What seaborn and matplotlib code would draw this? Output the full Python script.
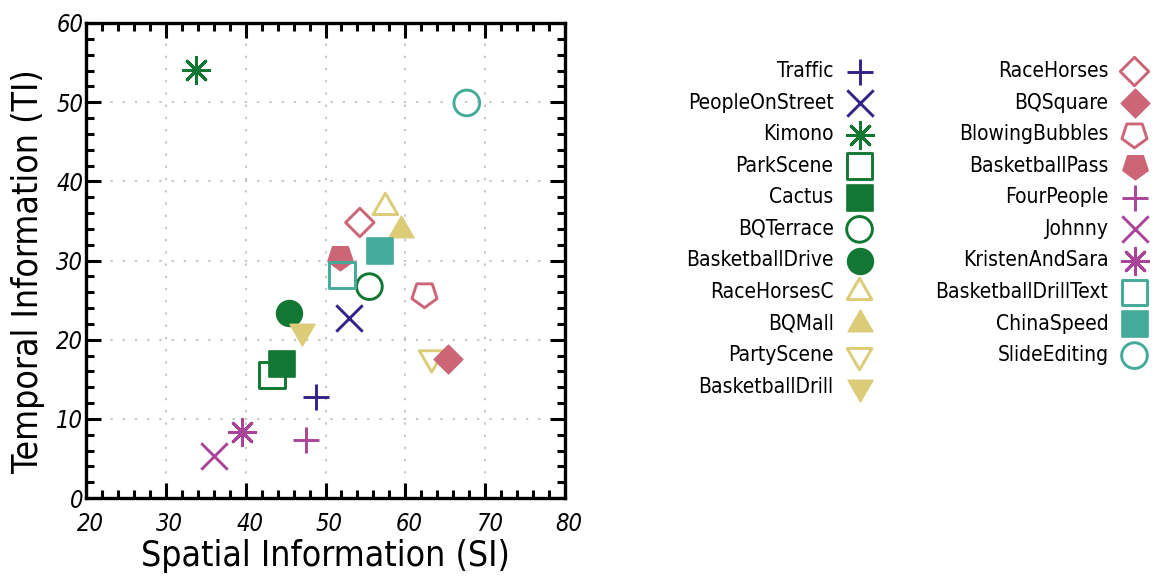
import matplotlib
matplotlib.use("Agg")
import matplotlib.pyplot as plt
import matplotlib.transforms as mtransforms
import seaborn as sns
from matplotlib.ticker import MultipleLocator

# Test sequences with their spatial (SI) and temporal (TI) information
sequences = [
    "Traffic", "PeopleOnStreet", "Kimono", "ParkScene", "Cactus", "BQTerrace",
    "BasketballDrive", "RaceHorsesC", "BQMall", "PartyScene", "BasketballDrill",
    "RaceHorses", "BQSquare", "BlowingBubbles", "BasketballPass",
    "FourPeople", "Johnny", "KristenAndSara",
    "BasketballDrillText", "ChinaSpeed", "SlideEditing",
]
si = [48.8, 52.9, 33.8, 43.3, 44.5, 55.5, 45.4, 57.5, 59.5, 63.3, 47.1,
      54.3, 65.3, 62.4, 51.8, 47.6, 36.0, 39.6, 52.1, 56.8, 67.7]
ti = [12.8, 22.8, 54.1, 15.5, 16.9, 26.7, 23.4, 36.7, 33.9, 17.7, 21.1,
      34.8, 17.6, 25.7, 30.4, 7.3, 5.3, 8.4, 28.2, 31.2, 49.9]

x_ticks = [20, 30, 40, 50, 60, 70, 80]
y_ticks = [0, 10, 20, 30, 40, 50, 60]

# Styling per sequence class
indigo, green, sand, rose, purple, teal = (
    "#332288", "#117733", "#DDCC77", "#CC6677", "#AA4499", "#44AA99")
colors = [indigo, indigo, green, green, green, green, green, sand, sand, sand, sand,
          rose, rose, rose, rose, purple, purple, purple, teal, teal, teal]
plus, cross, star = "+", "x", (8, 2, 0)
tri_up, tri_dn, pent = (3, 0, 0), (3, 0, 180), (5, 0, 180)
markers = [plus, cross, star, "s", "s", "o", "o", tri_up, tri_up, tri_dn, tri_dn,
           "D", "D", pent, pent, plus, cross, star, "s", "s", "o"]
filled = [None, None, None, False, True, False, True, False, True, False, True,
          False, True, False, True, None, None, None, False, True, False]
size_pt = {"+": 19, "x": 19, star: 19, "s": 18.5, "o": 18.5, "D": 14.5,
           tri_up: 20.5, tri_dn: 20.5, pent: 19}

sns.set_theme(style="white")
plt.rcParams["font.family"] = ["DejaVu Sans"]
plt.rcParams["font.stretch"] = "condensed"
plt.rcParams["text.color"] = "black"

fig = plt.figure(figsize=(11.55, 5.76), dpi=100)
ax = fig.add_axes([86 / 1155, 1 - 498 / 576, 479 / 1155, 475 / 576])

lw = 2.1
for name, x, y, c, m, f in zip(sequences, si, ti, colors, markers, filled):
    s = size_pt[m] ** 2
    if f is None:
        sns.scatterplot(x=[x], y=[y], ax=ax, marker=m, s=s, color=c,
                        linewidth=lw, label=name, zorder=3)
    elif f:
        sns.scatterplot(x=[x], y=[y], ax=ax, marker=m, s=s, color=c,
                        edgecolor=c, linewidth=1.2, label=name, zorder=3)
    else:
        sns.scatterplot(x=[x], y=[y], ax=ax, marker=m, s=s, facecolor="none",
                        edgecolor=c, linewidth=lw, label=name, zorder=3)

ax.set_xlim(x_ticks[0], x_ticks[-1])
ax.set_ylim(y_ticks[0], y_ticks[-1])
ax.set_xticks(x_ticks)
ax.set_yticks(y_ticks)
ax.xaxis.set_minor_locator(MultipleLocator(2))
ax.yaxis.set_minor_locator(MultipleLocator(2))
ax.tick_params(which="both", direction="in", top=True, right=True,
               bottom=True, left=True, color="black", width=2.2)
ax.tick_params(which="major", length=11)
ax.tick_params(which="minor", length=5.5)
ax.tick_params(axis="x", which="major", pad=10)
ax.tick_params(axis="y", which="major", pad=2)
shift_right = mtransforms.ScaledTranslation(4 / 100, 0, fig.dpi_scale_trans)
for lab in ax.get_xticklabels():
    lab.set_transform(lab.get_transform() + shift_right)
for lab in ax.get_xticklabels() + ax.get_yticklabels():
    lab.set_fontstyle("italic")
    lab.set_fontsize(17)
    lab.set_color("black")
for sp in ax.spines.values():
    sp.set_visible(True)
    sp.set_color("black")
    sp.set_linewidth(2.4)

ax.grid(True, which="major", color="#b5b5b5", linestyle=(0, (1.5, 6.5)), linewidth=1.1)
ax.set_axisbelow(True)

ax.set_xlabel("Spatial Information (SI)", fontsize=25.5, color="black", labelpad=2)
ax.set_ylabel("Temporal Information (TI)", fontsize=25.5, color="black", labelpad=8)
ax.yaxis.label.set_y(0.477)

handles, labels = ax.get_legend_handles_labels()
ax.get_legend().remove()
fig.legend(handles, labels, ncol=2, loc="upper left",
           bbox_to_anchor=(686 / 1155, 1 - 61 / 576), frameon=False,
           markerfirst=False, fontsize=15, labelspacing=0.555,
           handlelength=1.5, handletextpad=0.5, columnspacing=2.9,
           borderpad=0, borderaxespad=0)

fig.savefig("out.png", dpi=100)
